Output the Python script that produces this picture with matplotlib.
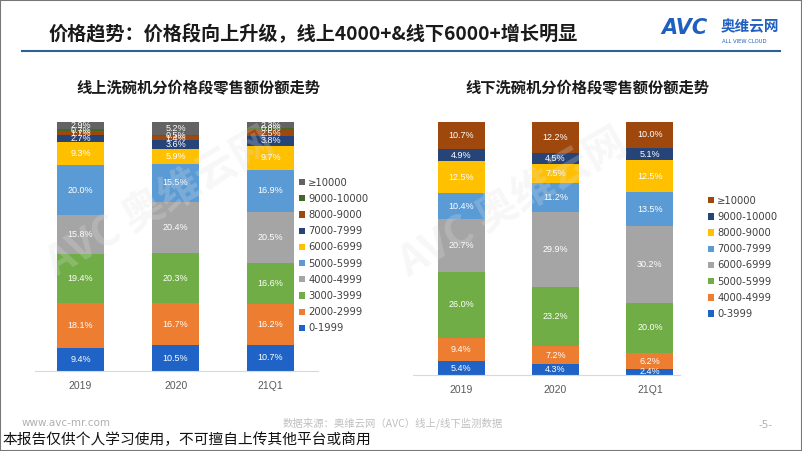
import matplotlib.pyplot as plt
from matplotlib.patches import Rectangle
import numpy as np

plt.rcParams['font.family'] = ['Noto Sans CJK SC', 'DejaVu Sans']

years = ["2019", "2020", "21Q1"]

# online share by price band (bottom -> top)
online_bands = ["0-1999", "2000-2999", "3000-3999", "4000-4999", "5000-5999",
                "6000-6999", "7000-7999", "8000-9000", "9000-10000", "≥10000"]
online_vals = [
    [9.4, 10.5, 10.7],
    [18.1, 16.7, 16.2],
    [19.4, 20.3, 16.6],
    [15.8, 20.4, 20.5],
    [20.0, 15.5, 16.9],
    [9.3, 5.9, 9.7],
    [2.7, 3.6, 3.8],
    [1.7, 1.4, 2.5],
    [0.7, 0.5, 0.8],
    [2.9, 5.2, 2.3],
]
online_colors = ["#1f63c6", "#ed7d31", "#70ad47", "#a5a5a5", "#5b9bd5",
                 "#ffc000", "#264478", "#9e480e", "#43682b", "#636363"]

# offline share by price band (bottom -> top)
offline_bands = ["0-3999", "4000-4999", "5000-5999", "6000-6999", "7000-7999",
                 "8000-9000", "9000-10000", "≥10000"]
offline_vals = [
    [5.4, 4.3, 2.4],
    [9.4, 7.2, 6.2],
    [26.0, 23.2, 20.0],
    [20.7, 29.9, 30.2],
    [10.4, 11.2, 13.5],
    [12.5, 7.5, 12.5],
    [4.9, 4.5, 5.1],
    [10.7, 12.2, 10.0],
]
offline_colors = ["#1f63c6", "#ed7d31", "#70ad47", "#a5a5a5", "#5b9bd5",
                  "#ffc000", "#264478", "#9e480e"]

fig = plt.figure(figsize=(8.02, 4.51), dpi=100)


def stacked(ax, vals, colors, bands):
    x = np.arange(len(years))
    bottom = np.zeros(len(years))
    handles = []
    for k, (v, c) in enumerate(zip(vals, colors)):
        v = np.array(v)
        b = ax.bar(x, v, 0.5, bottom=bottom, color=c, label=bands[k])
        handles.append(b)
        for i in range(len(years)):
            ax.text(x[i], bottom[i] + v[i] / 2, f"{v[i]:.1f}%", ha="center",
                    va="center", color="white", fontsize=6.5,
                    family=["Liberation Sans", "DejaVu Sans"])
        bottom += v
    ax.set_ylim(0, 100)
    ax.set_xticks(x)
    ax.set_xticklabels(years, fontsize=7.5, color="#595959",
                       family=["Liberation Sans", "DejaVu Sans"])
    ax.tick_params(axis="x", length=0, pad=7)
    ax.set_yticks([])
    for s in ["top", "right", "left"]:
        ax.spines[s].set_visible(False)
    ax.spines["bottom"].set_color("#d9d9d9")
    return handles


ax1 = fig.add_axes([0.0436, 0.177, 0.353, 0.552])
h1 = stacked(ax1, online_vals, online_colors, online_bands)
ax1.set_xlim(-0.48, 2.5)

ax2 = fig.add_axes([0.515, 0.1685, 0.333, 0.561])
h2 = stacked(ax2, offline_vals, offline_colors, offline_bands)
ax2.set_xlim(-0.51, 2.32)

leg_kw = dict(frameon=False, handlelength=0.6, handleheight=0.6,
              handletextpad=0.3, labelspacing=0.62, borderaxespad=0,
              labelcolor="#404040", prop={"family": ["DejaVu Sans"], "size": 7.2})
fig.legend(h1[::-1], online_bands[::-1], loc="upper left",
           bbox_to_anchor=(0.368, 0.615), **leg_kw)
fig.legend(h2[::-1], offline_bands[::-1], loc="upper left",
           bbox_to_anchor=(0.878, 0.575), **leg_kw)

# header
fig.text(0.06, 0.925, "价格趋势：价格段向上升级，线上4000+&线下6000+增长明显",
         fontsize=13.8, fontweight="bold", va="center", color="#1a1a1a")
fig.add_artist(plt.Line2D([0.027, 0.973], [0.888, 0.888], color="#2e5f95", lw=1.5))
fig.text(0.825, 0.937, "AVC", fontsize=15, fontweight="bold", color="#1f5fbf",
         va="center", style="italic", family=["DejaVu Sans"])
fig.text(0.898, 0.942, "奥维云网", fontsize=10.5, fontweight="bold", color="#1f5fbf",
         va="center")
fig.text(0.9, 0.908, "ALL VIEW CLOUD", fontsize=3.8, color="#1f5fbf", va="center",
         family=["DejaVu Sans"])

fig.text(0.095, 0.805, "线上洗碗机分价格段零售额份额走势", fontsize=11,
         fontweight="bold", va="center", color="#1a1a1a")
fig.text(0.581, 0.805, "线下洗碗机分价格段零售额份额走势", fontsize=11,
         fontweight="bold", va="center", color="#1a1a1a")

# faint watermarks
for wx, wy in [(0.2, 0.55), (0.64, 0.55)]:
    fig.text(wx, wy, "AVC 奥维云网", fontsize=30, fontweight="bold", color="#e0e0e0",
             alpha=0.25, rotation=30, ha="center", va="center")

# footer
fig.text(0.027, 0.062, "www.avc-mr.com", fontsize=7.5, color="#b0b0b0", va="center",
         family=["DejaVu Sans"])
fig.text(0.49, 0.062, "数据来源：奥维云网（AVC）线上/线下监测数据", fontsize=7.5,
         color="#c0c0c0", ha="center", va="center")
fig.text(0.955, 0.058, "-5-", fontsize=7.5, color="#b0b0b0", ha="center", va="center",
         family=["DejaVu Sans"])
fig.text(0.003, 0.025, "本报告仅供个人学习使用，不可擅自上传其他平台或商用", fontsize=10.6,
         color="#111111", va="center")

fig.add_artist(Rectangle((0, 0), 1, 1, transform=fig.transFigure, fill=False,
                         edgecolor="#777777", lw=1.5))

fig.savefig("out.png", dpi=100)
